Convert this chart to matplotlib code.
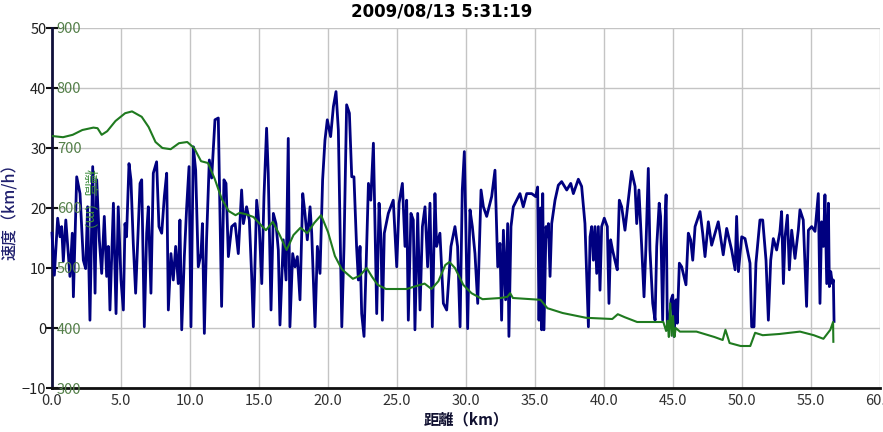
import matplotlib
matplotlib.use('Agg')
import matplotlib.pyplot as plt

plt.rcParams['font.family'] = ['Noto Sans CJK JP', 'DejaVu Sans']

title = "2009/08/13 5:31:19"

# speed (km/h) vertices along the route
speed_km = [
    0.0, 0.17, 0.41, 0.58, 0.70, 0.82, 1.00, 1.18, 1.30, 1.47, 1.55, 1.79, 2.03, 2.27, 2.44, 2.58,
    2.75, 2.95, 3.12, 3.24, 3.43, 3.60, 3.79, 3.96, 4.08, 4.20, 4.45, 4.64, 4.80, 5.00, 5.17, 5.29,
    5.40, 5.58, 5.72, 5.89, 6.06, 6.38, 6.50, 6.69, 6.86, 6.98, 7.17, 7.34, 7.58, 7.75, 7.95, 8.14,
    8.31, 8.43, 8.62, 8.79, 8.96, 9.15, 9.27, 9.40, 9.59, 9.76, 9.93, 10.07, 10.24, 10.41, 10.60,
    10.80, 10.90, 11.04, 11.20, 11.40,
    11.57, 11.81, 12.05, 12.29, 12.46, 12.61, 12.78, 13.02, 13.27, 13.50, 13.74, 13.87, 14.10,
    14.30, 14.47, 14.59, 14.83, 15.02, 15.20, 15.36, 15.55, 15.67, 15.87, 16.04, 16.23, 16.40,
    16.52, 16.76, 16.96, 17.12, 17.24, 17.44, 17.61, 17.78, 17.97, 18.17, 18.33, 18.50, 18.70,
    18.82, 19.06, 19.23, 19.42, 19.61, 19.78, 19.95, 20.19, 20.39, 20.58, 20.75, 21.00, 21.16,
    21.35, 21.55, 21.72, 21.88, 22.07, 22.20, 22.32, 22.44, 22.61, 22.76, 22.93, 23.10, 23.29,
    23.53, 23.70, 23.84, 23.94, 24.08, 24.37, 24.73, 24.98, 25.15, 25.39, 25.58, 25.70, 25.82,
    26.01, 26.18, 26.30, 26.50, 26.67, 26.84, 27.03, 27.22, 27.39, 27.56, 27.75, 27.87, 28.11,
    28.36, 28.60, 28.91, 29.20, 29.39, 29.57, 29.73, 29.88, 29.97, 30.12, 30.29, 30.46, 30.65,
    30.85, 31.09, 31.26, 31.50, 31.86, 32.10, 32.30, 32.46, 32.58, 32.71, 32.87, 33.02, 33.11,
    33.26, 33.43, 33.67, 33.91, 34.15, 34.40, 34.76, 35.05, 35.19, 35.29, 35.40, 35.48, 35.56,
    35.65, 35.80, 35.90, 35.97, 36.09, 36.21, 36.45, 36.69, 36.93, 37.30, 37.59, 37.78, 38.14,
    38.38, 38.62, 38.87, 38.99, 39.11, 39.23, 39.35, 39.47, 39.59, 39.71, 39.83, 40.02, 40.24,
    40.36, 40.48, 40.62, 40.79, 40.96, 41.11, 41.28, 41.52, 41.76, 42.00, 42.25, 42.37, 42.53,
    42.73, 42.90, 43.04, 43.21, 43.33, 43.53, 43.70, 43.82, 44.00, 44.10, 44.25, 44.35, 44.50,
    44.59, 44.73, 44.86, 44.98, 45.07, 45.22, 45.31, 45.46, 45.63, 45.94, 46.11, 46.28, 46.43,
    46.60, 46.96,
    47.15, 47.32, 47.56, 47.80, 48.28, 48.64, 48.89, 49.25, 49.50, 49.61, 49.74, 49.98, 50.22,
    50.58, 50.70, 50.87, 51.01, 51.30, 51.50, 51.74, 51.91, 52.08, 52.27, 52.51, 52.75, 52.87,
    53.00, 53.12, 53.29, 53.43, 53.60, 53.84, 54.08, 54.20, 54.44, 54.68, 54.81, 55.05, 55.29,
    55.53, 55.65, 55.77, 55.90, 56.01, 56.14, 56.26, 56.33, 56.43, 56.55, 56.62, 56.67,
]
speed = [
    15.8, 8.8, 18.3, 15.2, 16.9, 11.1, 18.0, 12.4, 8.6, 15.8, 5.2, 25.2, 22.4, 11.3, 9.9, 20.2,
    1.3, 26.9, 5.8, 24.7, 14.7, 9.1, 18.6, 8.6, 13.6, 3.0, 20.8, 2.4, 20.2, 8.0, 3.0, 17.4,
    15.2, 27.4, 24.7, 14.1, 5.8, 24.1, 24.7, 0.2, 15.8, 20.2, 5.8, 25.8, 27.7, 16.9, 15.8, 21.9,
    25.8, 3.0, 12.4, 8.0, 13.6, 7.4, 18.0, -0.3, 11.9, 20.2, 26.9, 0.2, 30.2, 26.3, 10.2,
    12.4, 17.4, -0.9, 14.7, 28.0,
    25.0, 34.7, 35.0, 3.6, 24.7, 24.1, 11.9, 16.9, 17.4, 12.4, 23.0, 17.4, 20.2,
    18.0, 8.6, 0.2, 21.3, 16.9, 7.4, 21.9, 33.3, 25.8, 3.0, 19.1, 17.4, 13.0,
    0.5, 14.7, 8.0, 31.6, 0.2, 12.4, 10.2, 11.9, 4.7, 22.4, 19.1, 14.7, 20.2,
    15.8, 0.2, 13.6, 9.1, 24.7, 31.3, 34.7, 31.9, 36.9, 39.4, 33.0, 0.2, 13.6,
    37.2, 35.8, 25.2, 25.2, 13.6, 8.0, 13.6, 2.4, -1.4, 10.2, 24.1, 21.3, 30.8,
    2.4, 20.8, 14.7, 1.3, 15.8, 19.1, 21.3, 10.2, 20.8, 24.1, 13.6, 21.3, 1.3,
    19.1, 18.0, -0.3, 19.1, 3.0, 16.9, 20.2, 10.2, 20.8, 0.2, 22.4, 13.6, 15.8,
    4.1, 3.0, 13.6, 16.9, 13.6, 0.2, 23.0, 29.4, 19.1, -0.1, 19.7, 16.9, 12.4,
    4.1, 23.0, 20.2, 18.6, 21.9, 26.3, 10.2, 14.1, 1.3, 16.3, 4.7, 17.4, -1.4,
    16.9, 20.2, 21.3, 22.4, 20.2, 22.4, 22.4, 21.9, 23.5, 1.3, 20.0, -0.3, 22.4,
    -0.3, 16.9, 15.2, 17.4, 8.6, 17.4, 21.3, 23.8, 24.4, 23.0, 24.1, 22.4, 24.8,
    23.6, 17.4, 0.2, 15.2, 16.9, 11.3, 16.9, 9.1, 16.9, 6.3, 16.9, 18.3, 16.9,
    4.1, 14.7, 13.0, 11.3, 9.7, 21.3, 20.2, 16.3, 21.3, 26.1, 23.6, 17.4, 23.0,
    13.6, 5.2, 13.6, 26.6, 13.0, 4.1, 1.3, 13.6, 20.8, 18.6, 1.3, 13.6, 22.2,
    -0.3, 0.8, 4.7, 5.5, -1.4, 4.7, 0.8, 10.8, 10.2, 7.2, 15.8, 14.7, 11.3,
    16.9, 19.4,
    15.8, 11.9, 17.7, 13.8, 17.7, 12.2, 16.6, 13.0, 9.7, 18.6, 9.4, 15.2, 14.9,
    10.8, 0.2, 0.2, 10.8, 18.0, 18.0, 11.3, 1.3, 11.3, 14.9, 13.0, 16.1, 19.4,
    7.4, 15.2, 18.8, 9.7, 16.3, 11.6, 16.3, 19.7, 18.0, 3.6, 16.3, 16.9, 16.1,
    22.4, 4.1, 17.7, 13.6, 22.2, 7.4, 20.8, 6.9, 9.4, 7.4, 8.0, 1.1,
]

# elevation (m) vertices
elev_km = [
    0.0, 0.8, 1.5, 2.2, 3.0, 3.3, 3.6, 4.0, 4.6, 5.3, 5.8, 6.5, 7.0, 7.5, 8.0, 8.6, 9.2, 9.8,
    10.3, 10.8, 11.3, 11.8, 12.3, 12.8, 13.3, 13.6, 14.0, 14.6, 15.0, 15.5, 16.0, 16.5, 17.0,
    17.5, 18.0, 18.5, 19.0, 19.5, 20.0, 20.5, 21.0, 21.8, 22.3, 22.8, 23.2, 23.6, 24.2, 25.7,
    26.4, 27.0, 27.5, 28.0, 28.5, 28.8, 29.2, 29.8, 30.4, 31.2, 32.5, 33.0, 33.2, 33.4, 35.4,
    35.9, 37.0, 38.7, 40.6, 41.0, 41.5, 42.4, 44.3, 44.5, 44.6, 44.7, 44.8, 44.9, 45.0, 45.1,
    45.2, 45.5, 46.7, 48.0, 48.6, 48.8, 49.1, 49.9, 50.6, 50.95, 51.5, 52.7, 54.2, 55.2, 55.9,
    56.4, 56.6, 56.62,
]
elev = [
    720, 718, 722, 730, 734, 733, 722, 728, 745, 758, 761, 752, 735, 710, 700, 698, 708, 710,
    700, 678, 675, 648, 615, 595, 588, 592, 590, 585, 575, 563, 577, 555, 530,
    555, 567, 558, 575, 588, 560, 520, 498, 482, 487, 500, 485, 472, 465, 465,
    470, 474, 465, 478, 505, 510, 500, 472, 458, 448, 450, 452, 458, 450, 447,
    433, 425, 417, 415, 423, 418, 410, 410, 395, 412, 385, 441, 387, 420, 385,
    400, 394, 394, 385, 380, 397, 375, 370, 370, 392, 388, 390, 394, 388, 382,
    397, 410, 377,
]

speed_ticks = [-10, 0, 10, 20, 30, 40, 50]
elev_ticks = [300, 400, 500, 600, 700, 800, 900]
dist_ticks = [0, 5, 10, 15, 20, 25, 30, 35, 40, 45, 50, 55, 60]

fig = plt.figure(figsize=(8.83, 4.32), dpi=100)
ax = fig.add_axes([52 / 883, 1 - 388 / 432, 828 / 883, 360 / 432])

ax.set_xlim(0, 60)
ax.set_ylim(-10, 50)
ax.set_xticks(dist_ticks)
ax.set_xticklabels(['%.1f' % d for d in dist_ticks])
ax.set_yticks(speed_ticks)
ax.grid(True, color='#c4c4c4', lw=1)
ax.set_axisbelow(True)

for s in ['top', 'right']:
    ax.spines[s].set_visible(False)
ax.spines['left'].set_linewidth(2)
ax.spines['left'].set_color('#10103a')
ax.spines['bottom'].set_linewidth(2)
ax.spines['bottom'].set_color('#101010')
ax.tick_params(axis='y', direction='inout', length=8, width=1.5, color='#101010',
               labelsize=10.5, labelcolor='#202020', pad=0)
ax.tick_params(axis='x', length=0, labelsize=10.5, labelcolor='#303030', pad=4)

ax.plot(speed_km, speed, color='#000080', lw=2.0, clip_on=False, zorder=3)

ax2 = ax.twinx()
ax2.set_ylim(300, 900)
ax2.set_yticks(elev_ticks)
ax2.yaxis.set_ticks_position('left')
ax2.tick_params(axis='y', length=0, labelleft=True, labelright=False,
                labelsize=10.5, labelcolor='#55804a', pad=-3.5)
for lbl in ax2.get_yticklabels():
    lbl.set_horizontalalignment('left')
for s in ax2.spines.values():
    s.set_visible(False)
ax2.plot(elev_km, elev, color='#1f7a1f', lw=1.5)

ax.set_xlabel('距離（km）', fontsize=11, fontweight='bold', color='#101030', labelpad=3)
ax.set_ylabel('速度（km/h）', fontsize=11.5, fontweight='medium', color='#20206e', labelpad=2)
fig.text(89 / 883, 1 - 203 / 432, '標高（m）', rotation=270, color='#3a8a3a',
         fontsize=10, ha='center', va='center')
fig.text(0.5, 1 - 12 / 432, title, ha='center', va='center', fontsize=12,
         fontweight='bold', family='DejaVu Sans')

fig.savefig('out.png', dpi=100)
